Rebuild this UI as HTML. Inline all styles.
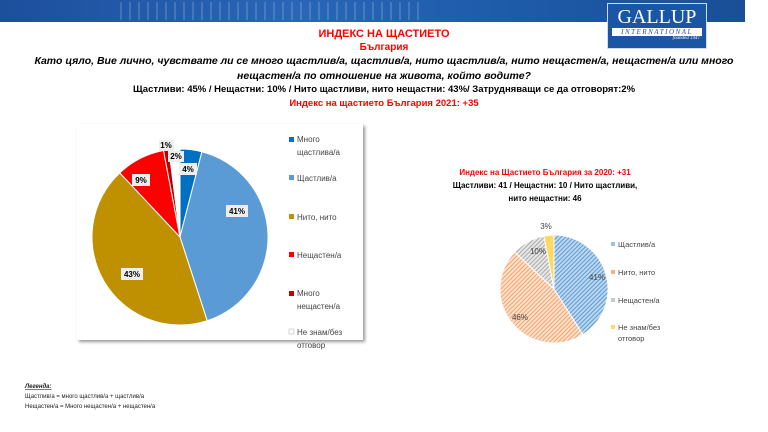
<!DOCTYPE html>
<html><head><meta charset="utf-8"><style>
body{margin:0;width:768px;height:432px;background:#fff;font-family:"Liberation Sans","DejaVu Sans",sans-serif;overflow:hidden;position:relative}
.t{position:absolute;left:0;width:768px;text-align:center;white-space:nowrap}
</style></head><body>
<div style="position:absolute;left:0;top:0;width:745px;height:22px;background:linear-gradient(90deg,#1c4f9c,#2a66b8 40%,#1d5aa8 70%,#1a4f96)"></div>
<div style="position:absolute;left:120px;top:2px;width:300px;height:18px;background:repeating-linear-gradient(90deg,rgba(255,255,255,.25) 0 2px,transparent 2px 9px);opacity:.6"></div>
<div style="position:absolute;left:607px;top:3px;width:98px;height:44px;background:#1b56a4;border:1px solid #cfdcee;color:#fff;text-align:center;font-family:'Liberation Serif',serif">
<div style="font-size:20px;line-height:22px;margin-top:2px">GALLUP</div>
<div style="font-size:7px;letter-spacing:1.5px;background:#fff;color:#1b56a4;margin:0 4px;line-height:8px;font-style:italic">INTERNATIONAL</div>
<div style="font-size:5px;text-align:right;padding-right:6px;font-style:italic">founded 1947</div></div>
<div class="t" style="top:28px;font-size:11px;font-weight:bold;color:#f00">ИНДЕКС НА ЩАСТИЕТО</div>
<div class="t" style="top:42px;font-size:10px;font-weight:bold;color:#f00">България</div>
<div class="t" style="top:55px;font-size:10.5px;font-weight:bold;font-style:italic">Като цяло, Вие лично, чувствате ли се много щастлив/а, щастлив/а, нито щастлив/а, нито нещастен/а, нещастен/а или много</div>
<div class="t" style="top:70px;font-size:10.5px;font-weight:bold;font-style:italic">нещастен/а по отношение на живота, който водите?</div>
<div class="t" style="top:84px;font-size:9.5px;font-weight:bold">Щастливи: 45% / Нещастни: 10% / Нито щастливи, нито нещастни: 43%/ Затрудняващи се да отговорят:2%</div>
<div class="t" style="top:98px;font-size:9.5px;font-weight:bold;color:#f00">Индекс на щастието България 2021: +35</div>
<div style="position:absolute;left:77px;top:124px;width:286px;height:216px;background:#fff;box-shadow:2px 2px 3px #999"></div>
<svg id="s" width="768" height="432" style="position:absolute;left:0;top:0" font-family="Liberation Sans, DejaVu Sans, sans-serif">
<defs>
<pattern id="h1" width="3" height="3" patternUnits="userSpaceOnUse" patternTransform="rotate(45)"><rect width="3" height="3" fill="#bdd7ee"/><rect width="1" height="3" fill="#5b9bd5"/></pattern>
<pattern id="h2" width="3" height="3" patternUnits="userSpaceOnUse" patternTransform="rotate(45)"><rect width="3" height="3" fill="#fbe0cc"/><rect width="1" height="3" fill="#f4a46c"/></pattern>
<pattern id="h3" width="3" height="3" patternUnits="userSpaceOnUse" patternTransform="rotate(45)"><rect width="3" height="3" fill="#e7e7e7"/><rect width="1" height="3" fill="#aaa"/></pattern>
</defs>
<g id="p1"></g><g id="p2"></g>
<g font-size="8" fill="#444">
<rect x="289" y="137" width="5" height="5" fill="#0070c0"/><text x="297" y="142">Много</text><text x="297" y="155">щастлива/а</text>
<rect x="289" y="175" width="5" height="5" fill="#5b9bd5"/><text x="297" y="181">Щастлив/а</text>
<rect x="289" y="214" width="5" height="5" fill="#bf9000"/><text x="297" y="220">Нито, нито</text>
<rect x="289" y="252" width="5" height="5" fill="#f00"/><text x="297" y="258">Нещастен/а</text>
<rect x="289" y="291" width="5" height="5" fill="#c00000"/><text x="297" y="296">Много</text><text x="297" y="309">нещастен/а</text>
<rect x="289" y="329" width="5" height="5" fill="#fff" stroke="#bbb" stroke-width=".6"/><text x="297" y="335">Не знам/без</text><text x="297" y="348">отговор</text>
</g>
<g font-size="7.5" fill="#444">
<rect x="611" y="242" width="4" height="4" fill="#9dc3e6"/><text x="618" y="247">Щастлив/а</text>
<rect x="611" y="270" width="4" height="4" fill="#f4b183"/><text x="618" y="275">Нито, нито</text>
<rect x="611" y="298" width="4" height="4" fill="#c9c9c9"/><text x="618" y="303">Нещастен/а</text>
<rect x="611" y="325" width="4" height="4" fill="#ffd966"/><text x="618" y="330">Не знам/без</text><text x="618" y="341">отговор</text>
</g>
<g font-size="8" font-weight="bold" text-anchor="middle">
<rect x="179" y="163" width="18" height="12" fill="#eee"/><text x="188" y="172">4%</text>
<rect x="226" y="205" width="22" height="12" fill="#eee"/><text x="237" y="214">41%</text>
<rect x="121" y="268" width="22" height="12" fill="#eee"/><text x="132" y="277">43%</text>
<rect x="132" y="174" width="18" height="12" fill="#eee"/><text x="141" y="183">9%</text>
<rect x="159" y="140" width="15" height="11" fill="#eee"/><text x="166" y="148">1%</text>
<rect x="168" y="151" width="16" height="11" fill="#eee"/><text x="176" y="159">2%</text>
</g>
<g font-size="8" fill="#444" text-anchor="middle">
<text x="597" y="280">41%</text><text x="520" y="320">46%</text><text x="538" y="254">10%</text><text x="546" y="229">3%</text>
</g>
<g font-size="8" font-weight="bold" text-anchor="middle">
<text x="545" y="175" fill="#f00">Индекс на Щастието България за 2020: +31</text>
<text x="545" y="188">Щастливи: 41 / Нещастни: 10 / Нито щастливи,</text>
<text x="545" y="201">нито нещастни: 46</text>
</g>
<g font-size="6" fill="#222">
<text x="25" y="388" font-weight="bold" font-style="italic" text-decoration="underline">Легенда:</text>
<text x="25" y="398">Щастлив/а = много щастлив/а + щастлив/а</text>
<text x="25" y="408">Нещастен/а = Много нещастен/а + нещастен/а</text>
</g>
</svg>
<script>
function pie(g,cx,cy,r,data,sw){var a=0,h='';data.forEach(function(d){var s=a/100*2*Math.PI,e=(a+d[0])/100*2*Math.PI;a+=d[0];
var x1=cx+r*Math.sin(s),y1=cy-r*Math.cos(s),x2=cx+r*Math.sin(e),y2=cy-r*Math.cos(e);
h+='<path d="M'+cx+','+cy+'L'+x1+','+y1+'A'+r+','+r+' 0 '+(d[0]>50?1:0)+' 1 '+x2+','+y2+'Z" fill="'+d[1]+'" stroke="#fff" stroke-width="'+sw+'"/>';});
document.getElementById(g).innerHTML=h;}
pie('p1',180,237,88,[[4,'#0070c0'],[41,'#5b9bd5'],[43,'#bf9000'],[9,'#f00'],[1,'#c00000'],[2,'#fff']],1);
pie('p2',554,289,54,[[41,'url(#h1)'],[46,'url(#h2)'],[10,'url(#h3)'],[3,'#ffd966']],1);
</script>
</body></html>
